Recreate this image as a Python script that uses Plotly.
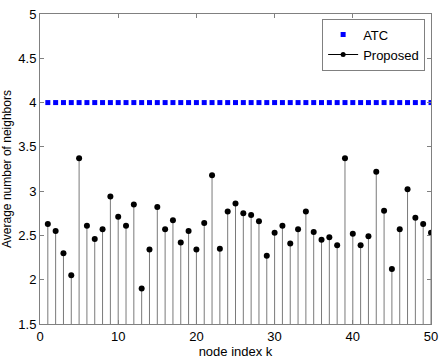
import plotly.graph_objects as go

k = list(range(1, 51))
atc = [4.0] * 50
proposed = [2.63, 2.55, 2.30, 2.05, 3.37, 2.61, 2.46, 2.57, 2.94, 2.71,
            2.61, 2.85, 1.90, 2.34, 2.82, 2.57, 2.67, 2.42, 2.55, 2.34,
            2.64, 3.18, 2.35, 2.77, 2.86, 2.75, 2.73, 2.66, 2.27, 2.53,
            2.61, 2.41, 2.57, 2.77, 2.54, 2.45, 2.48, 2.39, 3.37, 2.52,
            2.39, 2.49, 3.22, 2.78, 2.12, 2.57, 3.02, 2.70, 2.63, 2.53]
xticks = [0, 10, 20, 30, 40, 50]
yticks = [1.5, 2, 2.5, 3, 3.5, 4, 4.5, 5]

stem_x, stem_y = [], []
for xi, yi in zip(k, proposed):
    stem_x += [xi, xi, None]
    stem_y += [0, yi, None]

FONT = "Liberation Sans, Arial"

fig = go.Figure()
fig.add_trace(go.Scatter(x=k, y=atc, mode="markers", name="ATC",
                         marker=dict(symbol="square", size=5, color="#0000ff",
                                     line=dict(width=0))))
fig.add_trace(go.Scatter(x=stem_x, y=stem_y, mode="lines", showlegend=False,
                         line=dict(color="#7a7a7a", width=1), hoverinfo="skip"))
fig.add_trace(go.Scatter(x=k, y=proposed, mode="markers", name="Proposed", showlegend=False,
                         marker=dict(symbol="circle", size=6, color="black")))
fig.add_trace(go.Scatter(x=[None], y=[None], mode="lines+markers", name="Proposed",
                         line=dict(color="black", width=1),
                         marker=dict(symbol="circle", size=5, color="black")))

axis_common = dict(showgrid=False, zeroline=False, showline=True, mirror="ticks",
                   linecolor="#808080", linewidth=1, ticks="inside", ticklen=4,
                   tickcolor="#808080", automargin=False,
                   tickfont=dict(family=FONT, size=13, color="black"))
fig.update_xaxes(range=[0, 50], tickvals=xticks,
                 title=dict(text="node index k", standoff=3,
                            font=dict(family=FONT, size=13, color="black")), **axis_common)
fig.update_yaxes(range=[1.5, 5], tickvals=yticks, ticktext=[str(t) for t in yticks],
                 title=dict(text="Average number of neighbors", standoff=4,
                            font=dict(family=FONT, size=12, color="black")),
                 **axis_common)

fig.update_layout(
    width=447, height=360,
    margin=dict(l=40, r=16, t=14, b=36),
    plot_bgcolor="white", paper_bgcolor="white",
    font=dict(family=FONT, size=13, color="black"),
    legend=dict(x=0.985, y=0.985, xanchor="right", yanchor="top",
                bgcolor="white", bordercolor="#808080", borderwidth=1,
                font=dict(size=13), tracegroupgap=0, itemwidth=30),
)

fig.write_html("out.html")
